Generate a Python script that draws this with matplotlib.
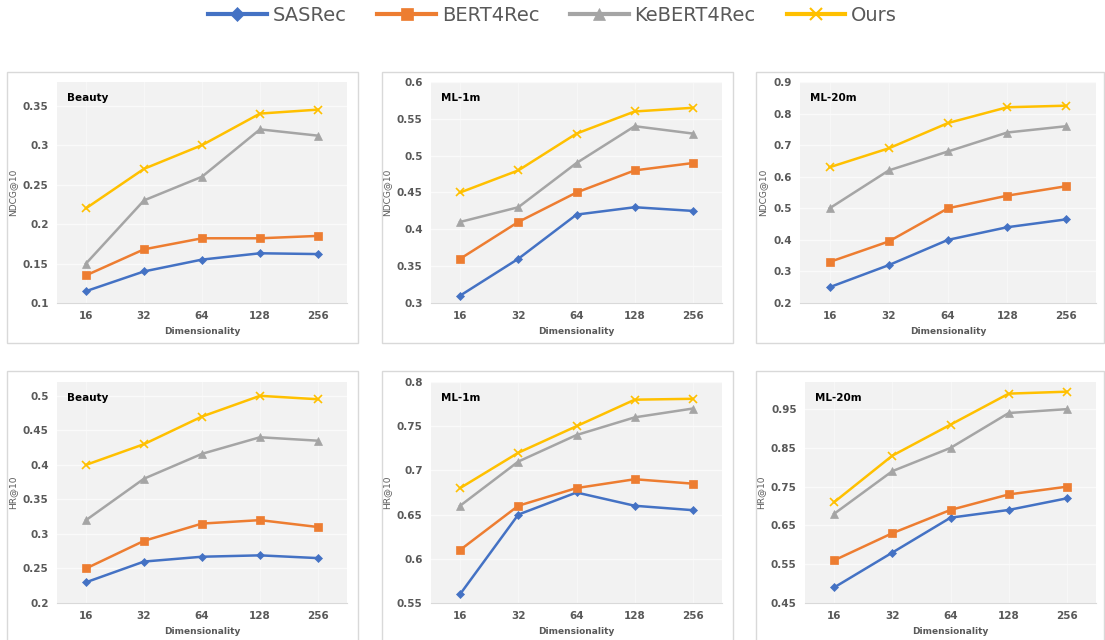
import matplotlib
matplotlib.use("Agg")
import matplotlib.pyplot as plt
from matplotlib.lines import Line2D
from matplotlib.patches import Rectangle

dims = ["16", "32", "64", "128", "256"]
methods = ["SASRec", "BERT4Rec", "KeBERT4Rec", "Ours"]
colors = ["#4472C4", "#ED7D31", "#A5A5A5", "#FFC000"]
markers = ["D", "s", "^", "x"]
msizes = [4, 6, 6, 6]

# NDCG@10
ndcg_beauty = [
    [0.115, 0.140, 0.155, 0.163, 0.162],
    [0.135, 0.168, 0.182, 0.182, 0.185],
    [0.150, 0.230, 0.260, 0.320, 0.312],
    [0.220, 0.270, 0.300, 0.340, 0.345],
]
ndcg_ml1m = [
    [0.310, 0.360, 0.420, 0.430, 0.425],
    [0.360, 0.410, 0.450, 0.480, 0.490],
    [0.410, 0.430, 0.490, 0.540, 0.530],
    [0.450, 0.480, 0.530, 0.560, 0.565],
]
ndcg_ml20m = [
    [0.250, 0.320, 0.400, 0.440, 0.465],
    [0.330, 0.395, 0.500, 0.540, 0.570],
    [0.500, 0.620, 0.680, 0.740, 0.760],
    [0.630, 0.690, 0.770, 0.820, 0.825],
]
# HR@10
hr_beauty = [
    [0.230, 0.260, 0.267, 0.269, 0.265],
    [0.250, 0.290, 0.315, 0.320, 0.310],
    [0.320, 0.380, 0.416, 0.440, 0.435],
    [0.400, 0.430, 0.470, 0.500, 0.495],
]
hr_ml1m = [
    [0.560, 0.650, 0.675, 0.660, 0.655],
    [0.610, 0.660, 0.680, 0.690, 0.685],
    [0.660, 0.710, 0.740, 0.760, 0.770],
    [0.680, 0.720, 0.750, 0.780, 0.781],
]
hr_ml20m = [
    [0.490, 0.580, 0.670, 0.690, 0.720],
    [0.560, 0.630, 0.690, 0.730, 0.750],
    [0.680, 0.790, 0.850, 0.940, 0.950],
    [0.710, 0.830, 0.910, 0.990, 0.995],
]

panels = [
    ("Beauty", "NDCG@10", ndcg_beauty, (0.1, 0.38), [0.1, 0.15, 0.2, 0.25, 0.3, 0.35], ["0.1", "0.15", "0.2", "0.25", "0.3", "0.35"]),
    ("ML-1m", "NDCG@10", ndcg_ml1m, (0.3, 0.6), [0.3, 0.35, 0.4, 0.45, 0.5, 0.55, 0.6], ["0.3", "0.35", "0.4", "0.45", "0.5", "0.55", "0.6"]),
    ("ML-20m", "NDCG@10", ndcg_ml20m, (0.2, 0.9), [0.2, 0.3, 0.4, 0.5, 0.6, 0.7, 0.8, 0.9], ["0.2", "0.3", "0.4", "0.5", "0.6", "0.7", "0.8", "0.9"]),
    ("Beauty", "HR@10", hr_beauty, (0.2, 0.52), [0.2, 0.25, 0.3, 0.35, 0.4, 0.45, 0.5], ["0.2", "0.25", "0.3", "0.35", "0.4", "0.45", "0.5"]),
    ("ML-1m", "HR@10", hr_ml1m, (0.55, 0.8), [0.55, 0.6, 0.65, 0.7, 0.75, 0.8], ["0.55", "0.6", "0.65", "0.7", "0.75", "0.8"]),
    ("ML-20m", "HR@10", hr_ml20m, (0.45, 1.02), [0.45, 0.55, 0.65, 0.75, 0.85, 0.95], ["0.45", "0.55", "0.65", "0.75", "0.85", "0.95"]),
]

W, H = 1105, 640
fig = plt.figure(figsize=(W / 100, H / 100), dpi=100)
fig.patch.set_facecolor("white")

# pixel boxes: (outer left, top, right, bottom), (plot left, top, right, bottom)
outer_boxes = [
    (7, 72, 358, 343), (382, 72, 733, 343), (756, 72, 1104, 343),
    (7, 371, 358, 650), (382, 371, 733, 650), (756, 371, 1104, 650),
]
plot_boxes = [
    (57, 82, 347, 303), (431, 82, 722, 303), (800, 82, 1096, 303),
    (57, 382, 347, 603), (431, 382, 722, 603), (805, 382, 1096, 603),
]

for (ol, ot, orr, ob) in outer_boxes:
    fig.patches.append(Rectangle((ol / W, 1 - ob / H), (orr - ol) / W, (ob - ot) / H,
                                 transform=fig.transFigure, fill=False,
                                 edgecolor="#D9D9D9", linewidth=1.0))

x = list(range(len(dims)))
grey_txt = "#595959"
for (title, ylabel, data, ylim, yt, ytl), (l, t, r, b) in zip(panels, plot_boxes):
    ax = fig.add_axes([l / W, 1 - b / H, (r - l) / W, (b - t) / H])
    ax.set_facecolor("#F2F2F2")
    for vals, c, m, ms in zip(data, colors, markers, msizes):
        ax.plot(x, vals, color=c, marker=m, markersize=ms, linewidth=1.8,
                markeredgewidth=1.2 if m == "x" else 0.5, zorder=3)
    ax.set_xlim(-0.5, 4.5)
    ax.set_ylim(*ylim)
    ax.set_yticks(yt)
    ax.set_yticklabels(ytl)
    ax.set_xticks(x)
    ax.set_xticklabels(dims)
    ax.grid(True, axis="y", color="#FAFAFA", linewidth=1.0, zorder=0)
    ax.grid(True, axis="x", color="#F7F7F7", linewidth=0.8, zorder=0)
    ax.set_axisbelow(True)
    for s in ["top", "right", "left"]:
        ax.spines[s].set_visible(False)
    ax.spines["bottom"].set_color("#D9D9D9")
    ax.tick_params(length=0, pad=6, colors=grey_txt, labelsize=7.5)
    for lab in ax.get_xticklabels() + ax.get_yticklabels():
        lab.set_fontweight("bold")
    ax.set_xlabel("Dimensionality", fontsize=6.5, color=grey_txt, fontweight="bold", labelpad=4)
    ax.set_ylabel(ylabel, fontsize=6.5, color=grey_txt, labelpad=4)
    ax.text(0.035, 0.95, title, transform=ax.transAxes, fontsize=7.5,
            fontweight="bold", color="black", va="top", ha="left")

handles = [Line2D([0], [0], color=c, marker=m, markersize=ms + 3, linewidth=3,
                  markeredgewidth=1.5 if m == "x" else 0.5)
           for c, m, ms in zip(colors, markers, msizes)]
leg = fig.legend(handles, methods, loc="upper center", bbox_to_anchor=(0.5, 1.018),
                 ncol=4, frameon=False, fontsize=14, handlelength=3.0,
                 columnspacing=1.6, handletextpad=0.3)
for txt in leg.get_texts():
    txt.set_color(grey_txt)

fig.savefig("out.png", dpi=100)
